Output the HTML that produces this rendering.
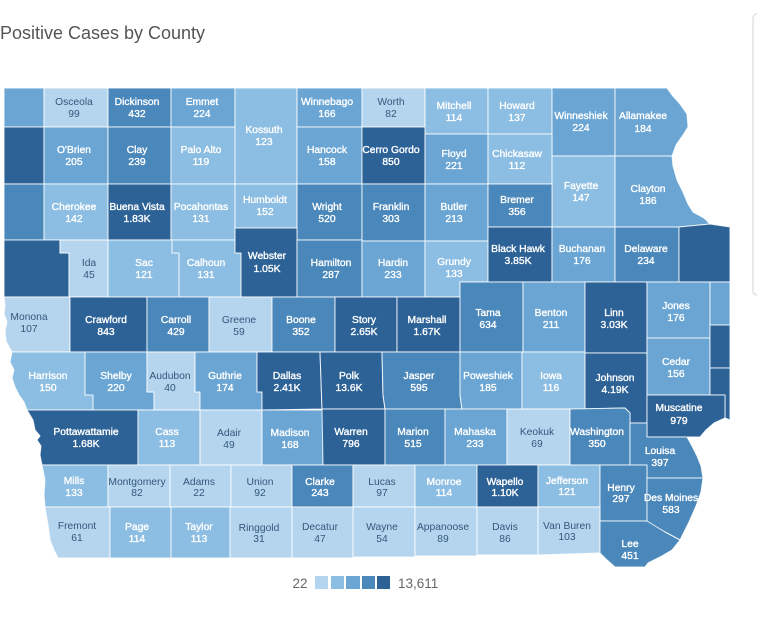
<!DOCTYPE html>
<html><head><meta charset="utf-8"><style>
html,body{margin:0;padding:0;background:#fff;}
svg{display:block;}
.w{fill:#fff;stroke:#fff;stroke-width:0.35px;}
.d{fill:#34577a;}
text{font-family:"Liberation Sans",sans-serif;font-size:10.3px;text-anchor:middle;}
</style></head><body>
<svg width="757" height="626" viewBox="0 0 757 626" xmlns="http://www.w3.org/2000/svg">
<rect width="757" height="626" fill="#fff"/>
<rect x="753" y="14" width="30" height="281" rx="4" fill="#fff" stroke="#e3e3e3" stroke-width="1.5"/>
<text x="0" y="39" style="font-size:18px;text-anchor:start;fill:#555" textLength="205">Positive Cases by County</text>
<g stroke="#fff" stroke-opacity="0.85" stroke-width="1" stroke-linejoin="round">
<polygon fill="#6aa5d3" points="4,88 44,88 44,127 4,127"/>
<polygon fill="#b5d5ef" points="44,88 108,88 108,127 44,127"/>
<polygon fill="#4a87ba" points="108,88 171,88 171,127 108,127"/>
<polygon fill="#6aa5d3" points="171,88 235,88 235,127 171,127"/>
<polygon fill="#8cbde2" points="235,88 297,88 297,184 235,184"/>
<polygon fill="#6aa5d3" points="297,88 362,88 362,127 297,127"/>
<polygon fill="#b5d5ef" points="362,88 425,88 425,127 362,127"/>
<polygon fill="#8cbde2" points="425,88 488,88 488,134 425,134"/>
<polygon fill="#8cbde2" points="488,88 552,88 552,134 488,134"/>
<polygon fill="#6aa5d3" points="552,88 615,88 615,156 552,156"/>
<polygon fill="#6aa5d3" points="615,88 667,88 672,95 680,104 687,114 688,127 683,135 676,145 672,156 615,156"/>
<polygon fill="#2d6297" points="4,127 44,127 44,184 4,184"/>
<polygon fill="#6aa5d3" points="44,127 108,127 108,184 44,184"/>
<polygon fill="#4a87ba" points="108,127 171,127 171,184 108,184"/>
<polygon fill="#8cbde2" points="171,127 235,127 235,184 171,184"/>
<polygon fill="#6aa5d3" points="297,127 362,127 362,184 297,184"/>
<polygon fill="#2d6297" points="362,127 425,127 425,184 362,184"/>
<polygon fill="#6aa5d3" points="425,134 488,134 488,184 425,184"/>
<polygon fill="#8cbde2" points="488,134 552,134 552,184 488,184"/>
<polygon fill="#8cbde2" points="552,156 615,156 615,227 552,227"/>
<polygon fill="#6aa5d3" points="615,156 672,156 673,166 677,180 683,192 688,204 693,212 704,218 710,224 679,227 615,227"/>
<polygon fill="#4a87ba" points="4,184 44,184 44,240 4,240"/>
<polygon fill="#8cbde2" points="44,184 108,184 108,240 44,240"/>
<polygon fill="#2d6297" points="108,184 171,184 171,240 108,240"/>
<polygon fill="#8cbde2" points="171,184 235,184 235,240 171,240"/>
<polygon fill="#8cbde2" points="235,184 297,184 297,228 235,228"/>
<polygon fill="#4a87ba" points="297,184 362,184 362,240 297,240"/>
<polygon fill="#4a87ba" points="362,184 425,184 425,241 362,241"/>
<polygon fill="#6aa5d3" points="425,184 488,184 488,241 425,241"/>
<polygon fill="#4a87ba" points="488,184 552,184 552,227 488,227"/>
<polygon fill="#2d6297" points="4,240 60,240 60,253 69,253 69,297 4,297"/>
<polygon fill="#b5d5ef" points="60,240 108,240 108,297 69,297 69,253 60,253"/>
<polygon fill="#8cbde2" points="108,240 172,240 172,253 179,253 179,297 108,297"/>
<polygon fill="#8cbde2" points="172,240 235,240 235,253 241,253 241,297 179,297 179,253 172,253"/>
<polygon fill="#2d6297" points="235,228 297,228 297,297 241,297 241,253 235,253"/>
<polygon fill="#4a87ba" points="297,240 362,240 362,297 297,297"/>
<polygon fill="#6aa5d3" points="362,241 425,241 425,297 362,297"/>
<polygon fill="#8cbde2" points="425,241 488,241 488,282 460,282 460,297 425,297"/>
<polygon fill="#2d6297" points="488,227 552,227 552,282 488,282"/>
<polygon fill="#6aa5d3" points="552,227 615,227 615,282 552,282"/>
<polygon fill="#4a87ba" points="615,227 679,227 679,282 615,282"/>
<polygon fill="#2d6297" points="679,227 710,224 730,227 730,282 679,282"/>
<polygon fill="#b5d5ef" points="4,297 70,297 70,352 12,352 9,347 6,341 5,330 7,322 4,314 5,305"/>
<polygon fill="#2d6297" points="70,297 147,297 147,352 70,352"/>
<polygon fill="#4a87ba" points="147,297 209,297 209,352 147,352"/>
<polygon fill="#b5d5ef" points="209,297 272,297 272,352 209,352"/>
<polygon fill="#4a87ba" points="272,297 335,297 335,352 272,352"/>
<polygon fill="#2d6297" points="335,297 397,297 397,352 335,352"/>
<polygon fill="#2d6297" points="397,297 460,297 460,352 397,352"/>
<polygon fill="#4a87ba" points="460,282 523,282 523,352 460,352"/>
<polygon fill="#6aa5d3" points="523,282 585,282 585,352 523,352"/>
<polygon fill="#2d6297" points="585,282 647,282 647,353 585,353"/>
<polygon fill="#6aa5d3" points="647,282 710,282 710,338 647,338"/>
<polygon fill="#6aa5d3" points="710,282 730,282 730,325 710,325"/>
<polygon fill="#8cbde2" points="12,352 85,352 85,395 93,395 93,410 27,410 24,402 19,395 15,387 12,378 14,370 10,362"/>
<polygon fill="#6aa5d3" points="85,352 147,352 147,392 154,392 154,410 93,410 93,395 85,395"/>
<polygon fill="#b5d5ef" points="147,352 195,352 195,392 200,392 200,410 154,410 154,392 147,392"/>
<polygon fill="#6aa5d3" points="195,352 257,352 257,392 262,392 262,410 200,410 200,392 195,392"/>
<polygon fill="#2d6297" points="257,352 320,352 322,409 262,410 262,392 257,392"/>
<polygon fill="#2d6297" points="320,352 382,352 383,395 385,409 322,409"/>
<polygon fill="#4a87ba" points="382,352 460,352 460,395 462,409 385,409 383,395"/>
<polygon fill="#6aa5d3" points="460,352 522,352 522,409 462,409 460,395"/>
<polygon fill="#8cbde2" points="522,352 585,352 585,409 522,409"/>
<polygon fill="#2d6297" points="585,353 647,353 647,423 630,423 630,413 625,408 585,409"/>
<polygon fill="#6aa5d3" points="647,338 710,338 710,395 647,395"/>
<polygon fill="#2d6297" points="710,325 730,325 730,368 710,368"/>
<polygon fill="#2d6297" points="710,368 730,368 730,420 725,418 725,395 710,395"/>
<polygon fill="#2d6297" points="647,395 725,395 725,418 714,423 706,430 700,437 647,437"/>
<polygon fill="#2d6297" points="27,410 138,410 138,465 42,465 40,455 41,446 37,440 40,436 35,430 33,420"/>
<polygon fill="#8cbde2" points="138,410 200,410 200,465 138,465"/>
<polygon fill="#b5d5ef" points="200,410 262,410 262,465 200,465"/>
<polygon fill="#6aa5d3" points="262,410 323,410 323,465 262,465"/>
<polygon fill="#2d6297" points="322,409 385,409 385,465 323,465"/>
<polygon fill="#4a87ba" points="385,409 445,409 445,465 385,465"/>
<polygon fill="#6aa5d3" points="445,409 507,409 507,465 445,465"/>
<polygon fill="#b5d5ef" points="507,409 570,409 570,465 507,465"/>
<polygon fill="#4a87ba" points="570,409 625,408 630,413 630,465 570,465"/>
<polygon fill="#4a87ba" points="630,423 647,423 647,437 687,437 692,446 697,456 701,466 703,478 647,478 647,465 630,465"/>
<polygon fill="#8cbde2" points="42,465 108,465 108,507 45,507 44,495 45,480"/>
<polygon fill="#b5d5ef" points="108,465 170,465 170,507 108,507"/>
<polygon fill="#b5d5ef" points="170,465 231,465 231,507 170,507"/>
<polygon fill="#b5d5ef" points="231,465 292,465 292,507 231,507"/>
<polygon fill="#4a87ba" points="292,465 353,465 353,507 292,507"/>
<polygon fill="#b5d5ef" points="353,465 415,465 415,507 353,507"/>
<polygon fill="#8cbde2" points="415,465 477,465 477,507 415,507"/>
<polygon fill="#2d6297" points="477,465 538,465 538,507 477,507"/>
<polygon fill="#8cbde2" points="538,465 600,465 600,507 538,507"/>
<polygon fill="#4a87ba" points="600,465 647,465 647,521 600,521"/>
<polygon fill="#4a87ba" points="647,478 703,478 701,492 696,506 689,522 680,540 665,532 650,524 647,521"/>
<polygon fill="#b5d5ef" points="45,507 110,507 110,558 58,558 54,550 50,540 48,525"/>
<polygon fill="#8cbde2" points="110,507 171,507 171,558 110,558"/>
<polygon fill="#8cbde2" points="171,507 230,507 230,558 171,558"/>
<polygon fill="#b5d5ef" points="230,507 292,507 292,558 230,558"/>
<polygon fill="#b5d5ef" points="292,507 353,507 353,558 292,558"/>
<polygon fill="#b5d5ef" points="353,507 415,507 415,557 353,557"/>
<polygon fill="#b5d5ef" points="415,507 477,507 477,556 415,556"/>
<polygon fill="#b5d5ef" points="477,507 538,507 538,555 477,555"/>
<polygon fill="#b5d5ef" points="538,507 600,507 600,553 538,555"/>
<polygon fill="#4a87ba" points="600,521 647,521 665,532 680,540 672,550 660,557 648,563 645,567 615,567 606,559 600,553"/>
</g>
<g>
<text class="d" x="74" y="105">Osceola</text><text class="d" x="74" y="117">99</text>
<text class="w" x="137" y="105">Dickinson</text><text class="w" x="137" y="117">432</text>
<text class="w" x="202" y="105">Emmet</text><text class="w" x="202" y="117">224</text>
<text class="w" x="264" y="133">Kossuth</text><text class="w" x="264" y="145">123</text>
<text class="w" x="327" y="105">Winnebago</text><text class="w" x="327" y="117">166</text>
<text class="d" x="391" y="105">Worth</text><text class="d" x="391" y="117">82</text>
<text class="w" x="454" y="109">Mitchell</text><text class="w" x="454" y="121">114</text>
<text class="w" x="517" y="109">Howard</text><text class="w" x="517" y="121">137</text>
<text class="w" x="581" y="119">Winneshiek</text><text class="w" x="581" y="131">224</text>
<text class="w" x="643" y="119">Allamakee</text><text class="w" x="643" y="132">184</text>
<text class="w" x="74" y="153">O'Brien</text><text class="w" x="74" y="165">205</text>
<text class="w" x="137" y="153">Clay</text><text class="w" x="137" y="165">239</text>
<text class="w" x="201" y="153">Palo Alto</text><text class="w" x="201" y="165">119</text>
<text class="w" x="327" y="153">Hancock</text><text class="w" x="327" y="165">158</text>
<text class="w" x="391" y="153">Cerro Gordo</text><text class="w" x="391" y="165">850</text>
<text class="w" x="454" y="157">Floyd</text><text class="w" x="454" y="169">221</text>
<text class="w" x="517" y="157">Chickasaw</text><text class="w" x="517" y="169">112</text>
<text class="w" x="581" y="189">Fayette</text><text class="w" x="581" y="201">147</text>
<text class="w" x="648" y="192">Clayton</text><text class="w" x="648" y="204">186</text>
<text class="w" x="74" y="210">Cherokee</text><text class="w" x="74" y="222">142</text>
<text class="w" x="137" y="210">Buena Vista</text><text class="w" x="137" y="222">1.83K</text>
<text class="w" x="201" y="210">Pocahontas</text><text class="w" x="201" y="222">131</text>
<text class="w" x="265" y="203">Humboldt</text><text class="w" x="265" y="215">152</text>
<text class="w" x="327" y="210">Wright</text><text class="w" x="327" y="222">520</text>
<text class="w" x="391" y="210">Franklin</text><text class="w" x="391" y="222">303</text>
<text class="w" x="454" y="210">Butler</text><text class="w" x="454" y="222">213</text>
<text class="w" x="517" y="203">Bremer</text><text class="w" x="517" y="215">356</text>
<text class="d" x="89" y="266">Ida</text><text class="d" x="89" y="278">45</text>
<text class="w" x="144" y="266">Sac</text><text class="w" x="144" y="278">121</text>
<text class="w" x="206" y="266">Calhoun</text><text class="w" x="206" y="278">131</text>
<text class="w" x="267" y="259">Webster</text><text class="w" x="267" y="272">1.05K</text>
<text class="w" x="331" y="266">Hamilton</text><text class="w" x="331" y="278">287</text>
<text class="w" x="393" y="266">Hardin</text><text class="w" x="393" y="278">233</text>
<text class="w" x="454" y="265">Grundy</text><text class="w" x="454" y="277">133</text>
<text class="w" x="518" y="252">Black Hawk</text><text class="w" x="518" y="264">3.85K</text>
<text class="w" x="582" y="252">Buchanan</text><text class="w" x="582" y="264">176</text>
<text class="w" x="646" y="252">Delaware</text><text class="w" x="646" y="264">234</text>
<text class="d" x="29" y="320">Monona</text><text class="d" x="29" y="332">107</text>
<text class="w" x="106" y="323">Crawford</text><text class="w" x="106" y="335">843</text>
<text class="w" x="176" y="323">Carroll</text><text class="w" x="176" y="335">429</text>
<text class="d" x="239" y="323">Greene</text><text class="d" x="239" y="335">59</text>
<text class="w" x="301" y="323">Boone</text><text class="w" x="301" y="335">352</text>
<text class="w" x="364" y="323">Story</text><text class="w" x="364" y="335">2.65K</text>
<text class="w" x="427" y="323">Marshall</text><text class="w" x="427" y="335">1.67K</text>
<text class="w" x="488" y="316">Tama</text><text class="w" x="488" y="328">634</text>
<text class="w" x="551" y="316">Benton</text><text class="w" x="551" y="328">211</text>
<text class="w" x="614" y="316">Linn</text><text class="w" x="614" y="328">3.03K</text>
<text class="w" x="676" y="309">Jones</text><text class="w" x="676" y="321">176</text>
<text class="w" x="48" y="379">Harrison</text><text class="w" x="48" y="391">150</text>
<text class="w" x="116" y="379">Shelby</text><text class="w" x="116" y="391">220</text>
<text class="d" x="170" y="379">Audubon</text><text class="d" x="170" y="391">40</text>
<text class="w" x="225" y="379">Guthrie</text><text class="w" x="225" y="391">174</text>
<text class="w" x="287" y="379">Dallas</text><text class="w" x="287" y="391">2.41K</text>
<text class="w" x="349" y="379">Polk</text><text class="w" x="349" y="391">13.6K</text>
<text class="w" x="419" y="379">Jasper</text><text class="w" x="419" y="391">595</text>
<text class="w" x="488" y="379">Poweshiek</text><text class="w" x="488" y="391">185</text>
<text class="w" x="551" y="379">Iowa</text><text class="w" x="551" y="391">116</text>
<text class="w" x="615" y="381">Johnson</text><text class="w" x="615" y="393">4.19K</text>
<text class="w" x="676" y="365">Cedar</text><text class="w" x="676" y="377">156</text>
<text class="w" x="86" y="435">Pottawattamie</text><text class="w" x="86" y="447">1.68K</text>
<text class="w" x="167" y="435">Cass</text><text class="w" x="167" y="447">113</text>
<text class="d" x="229" y="436">Adair</text><text class="d" x="229" y="448">49</text>
<text class="w" x="290" y="436">Madison</text><text class="w" x="290" y="448">168</text>
<text class="w" x="351" y="435">Warren</text><text class="w" x="351" y="447">796</text>
<text class="w" x="413" y="435">Marion</text><text class="w" x="413" y="447">515</text>
<text class="w" x="475" y="435">Mahaska</text><text class="w" x="475" y="447">233</text>
<text class="d" x="537" y="435">Keokuk</text><text class="d" x="537" y="447">69</text>
<text class="w" x="597" y="435">Washington</text><text class="w" x="597" y="447">350</text>
<text class="w" x="679" y="411">Muscatine</text><text class="w" x="679" y="424">979</text>
<text class="w" x="660" y="454">Louisa</text><text class="w" x="660" y="466">397</text>
<text class="w" x="74" y="484">Mills</text><text class="w" x="74" y="496">133</text>
<text class="d" x="137" y="485">Montgomery</text><text class="d" x="137" y="496">82</text>
<text class="d" x="199" y="485">Adams</text><text class="d" x="199" y="496">22</text>
<text class="d" x="260" y="485">Union</text><text class="d" x="260" y="496">92</text>
<text class="w" x="320" y="485">Clarke</text><text class="w" x="320" y="496">243</text>
<text class="d" x="382" y="485">Lucas</text><text class="d" x="382" y="496">97</text>
<text class="w" x="444" y="485">Monroe</text><text class="w" x="444" y="496">114</text>
<text class="w" x="505" y="485">Wapello</text><text class="w" x="505" y="496">1.10K</text>
<text class="w" x="567" y="484">Jefferson</text><text class="w" x="567" y="495">121</text>
<text class="w" x="621" y="491">Henry</text><text class="w" x="621" y="502">297</text>
<text class="w" x="671" y="501">Des Moines</text><text class="w" x="671" y="513">583</text>
<text class="d" x="77" y="529">Fremont</text><text class="d" x="77" y="541">61</text>
<text class="w" x="137" y="530">Page</text><text class="w" x="137" y="542">114</text>
<text class="w" x="199" y="530">Taylor</text><text class="w" x="199" y="542">113</text>
<text class="d" x="259" y="531">Ringgold</text><text class="d" x="259" y="542">31</text>
<text class="d" x="320" y="530">Decatur</text><text class="d" x="320" y="542">47</text>
<text class="d" x="382" y="530">Wayne</text><text class="d" x="382" y="542">54</text>
<text class="d" x="443" y="530">Appanoose</text><text class="d" x="443" y="542">89</text>
<text class="d" x="505" y="530">Davis</text><text class="d" x="505" y="542">86</text>
<text class="d" x="567" y="529">Van Buren</text><text class="d" x="567" y="540">103</text>
<text class="w" x="630" y="547">Lee</text><text class="w" x="630" y="559">451</text>
</g>
<text x="300" y="588" style="font-size:13.5px;fill:#666">22</text>
<rect x="315" y="576" width="13" height="13" fill="#b5d5ef"/>
<rect x="331" y="576" width="13" height="13" fill="#8cbde2"/>
<rect x="346" y="576" width="14" height="13" fill="#6aa5d3"/>
<rect x="362" y="576" width="13" height="13" fill="#4a87ba"/>
<rect x="377" y="576" width="13" height="13" fill="#2d6297"/>
<text x="398" y="588" style="font-size:13.5px;fill:#666;text-anchor:start">13,611</text>
</svg>
</body></html>
